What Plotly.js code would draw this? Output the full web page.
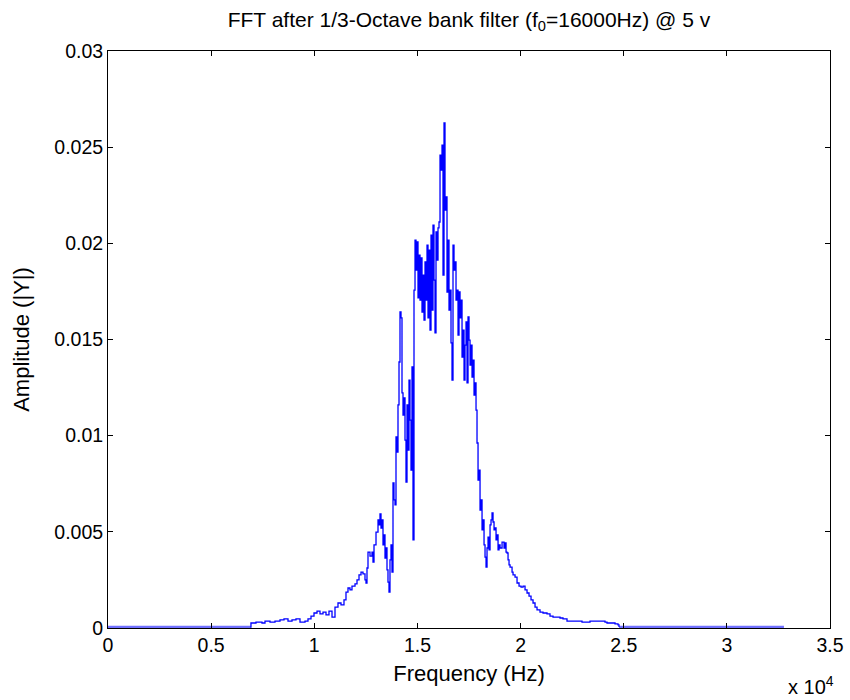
<!DOCTYPE html>
<html>
<head>
<meta charset="utf-8">
<script src="https://cdn.plot.ly/plotly-3.0.1.min.js"></script>
<style>html,body{margin:0;padding:0;background:#fff;}#chart{width:850px;height:700px;}</style>
</head>
<body>
<div id="chart"></div>
<script>
// Frequency (Hz) and amplitude |Y|
var freqHz = [6884,6930,7174,7465,7611,7853,8095,8338,8532,8726,8920,9113,9307,9550,9695,9841,9986,10132,10277,10423,10568,10713,10859,11004,11149,11295,11440,11537,11634,11731,11828,11974,12071,12168,12265,12361,12458,12507,12555,12604,12701,12798,12846,12895,12992,13089,13137,13185,13234,13282,13331,13379,13428,13476,13525,13573,13622,13670,13719,13767,13816,13864,13913,13961,14010,14058,14107,14155,14204,14252,14301,14349,14398,14446,14495,14543,14592,14640,14689,14737,14786,14834,14883,14931,14980,15028,15077,15125,15174,15222,15271,15319,15368,15416,15465,15513,15562,15610,15658,15707,15755,15804,15852,15901,15949,15998,16046,16095,16143,16192,16240,16289,16337,16386,16434,16483,16531,16580,16628,16677,16725,16774,16822,16871,16919,16968,17016,17065,17113,17162,17210,17259,17307,17356,17404,17453,17501,17550,17598,17647,17695,17744,17792,17841,17889,17938,17986,18035,18083,18132,18180,18229,18277,18326,18374,18423,18471,18520,18568,18617,18665,18714,18762,18811,18859,18908,18956,19005,19102,19199,19247,19296,19344,19393,19441,19490,19587,19635,19732,19829,19926,20023,20120,20216,20313,20410,20507,20604,20701,20798,20943,21088,21282,21427,21573,21767,21912,22057,22251,22639,22881,22978,23366,23850,24093,24190,24578,24723,24772];
var amplitude = [0.00005,0.00026,0.00031,0.00026,0.00036,0.00031,0.00036,0.00042,0.00047,0.00036,0.00042,0.00047,0.00031,0.00036,0.00047,0.00062,0.00078,0.00088,0.00073,0.00083,0.00068,0.00088,0.00057,0.00109,0.0013,0.0012,0.00146,0.00187,0.00208,0.00198,0.00218,0.00229,0.0025,0.00276,0.00291,0.00281,0.0025,0.00234,0.00312,0.00395,0.00374,0.00395,0.00343,0.00432,0.00499,0.00562,0.00536,0.00593,0.0052,0.00562,0.00432,0.00484,0.00364,0.00416,0.00302,0.00239,0.00187,0.00354,0.00432,0.00291,0.00754,0.00666,0.0064,0.00993,0.00915,0.0116,0.01383,0.01643,0.01612,0.01222,0.01107,0.01196,0.00977,0.00759,0.0116,0.00925,0.01289,0.01081,0.00821,0.01357,0.00458,0.01757,0.02017,0.01861,0.02007,0.01716,0.01939,0.01705,0.01924,0.01643,0.01835,0.01601,0.01903,0.01705,0.01991,0.01612,0.01965,0.01549,0.02043,0.01653,0.02095,0.01809,0.01534,0.02059,0.01913,0.0208,0.02111,0.02459,0.02381,0.02511,0.01835,0.02626,0.02173,0.02241,0.01747,0.02017,0.01653,0.01757,0.01482,0.01289,0.01991,0.01861,0.01903,0.01705,0.01757,0.01523,0.01747,0.01612,0.01705,0.01409,0.01549,0.01289,0.01471,0.01591,0.01274,0.01617,0.01497,0.01367,0.01471,0.01305,0.01393,0.01211,0.01274,0.01133,0.00962,0.00769,0.00821,0.00613,0.00666,0.0051,0.00562,0.00432,0.00369,0.00317,0.00416,0.00473,0.00406,0.00536,0.00562,0.00598,0.00551,0.0051,0.0052,0.00458,0.00484,0.00406,0.00432,0.00416,0.00447,0.00416,0.00442,0.00395,0.0039,0.00354,0.00328,0.00317,0.00291,0.00276,0.00265,0.00234,0.00218,0.00213,0.00218,0.00198,0.00182,0.00166,0.00146,0.0013,0.00109,0.00094,0.00083,0.00078,0.00073,0.00062,0.00057,0.00057,0.00052,0.00047,0.00036,0.00036,0.00036,0.00031,0.00036,0.00036,0.00031,0.00026,0.00021,0.00016,0.00005];

// near-zero floor outside the filter band
var floorLeftHz = [0, 2000, 4000, 6000, 6884];
var floorLeftAmp = [0.00004, 0.00004, 0.00004, 0.00004, 0.00004];
var floorRightHz = [24772, 27000, 30000, 32768];
var floorRightAmp = [0.00004, 0.00004, 0.00004, 0.00004];

// axis ticks
var xTickVals = [0, 5000, 10000, 15000, 20000, 25000, 30000, 35000];
var xTickText = ['0', '0.5', '1', '1.5', '2', '2.5', '3', '3.5'];
var yTickVals = [0, 0.005, 0.01, 0.015, 0.02, 0.025, 0.03];
var yTickText = ['0', '0.005', '0.01', '0.015', '0.02', '0.025', '0.03'];

var FONT = 'Liberation Sans, Arial, Helvetica, sans-serif';

var traces = [
  {x: floorLeftHz, y: floorLeftAmp, mode: 'lines', line: {color: '#7070ff', width: 3}, hoverinfo: 'skip'},
  {x: floorRightHz, y: floorRightAmp, mode: 'lines', line: {color: '#7070ff', width: 3}, hoverinfo: 'skip'},
  {x: freqHz, y: amplitude, mode: 'lines', line: {color: '#0000ff', width: 1.3, shape: 'hv'}}
];

var axisCommon = {
  showgrid: false, zeroline: false,
  showline: true, linecolor: '#000', linewidth: 1, mirror: 'ticks',
  ticks: 'inside', ticklen: 5, tickwidth: 1, tickcolor: '#000',
  tickfont: {family: FONT, size: 19.5, color: '#000'}
};

var layout = {
  width: 850, height: 700,
  margin: {l: 108, r: 20, t: 51, b: 72},
  paper_bgcolor: '#fff', plot_bgcolor: '#fff',
  showlegend: false,
  title: {
    text: 'FFT after 1/3-Octave bank filter (f<sub>0</sub>=16000Hz) @ 5 v',
    font: {family: FONT, size: 21, color: '#000'},
    x: 0.5, xref: 'paper', y: 0.972, yref: 'container', yanchor: 'middle'
  },
  xaxis: Object.assign({}, axisCommon, {
    range: [0, 35000], tickmode: 'array', tickvals: xTickVals, ticktext: xTickText,
    title: {text: 'Frequency (Hz)', font: {family: FONT, size: 22, color: '#000'}, standoff: 10}
  }),
  yaxis: Object.assign({}, axisCommon, {
    range: [0, 0.03], tickmode: 'array', tickvals: yTickVals, ticktext: yTickText,
    title: {text: 'Amplitude (|Y|)', font: {family: FONT, size: 22, color: '#000'}, standoff: 18}
  }),
  annotations: [{
    text: 'x 10<sup>4</sup>', xref: 'paper', yref: 'paper', x: 1.008, y: -0.1,
    xanchor: 'right', yanchor: 'middle', showarrow: false,
    font: {family: FONT, size: 20, color: '#000'}
  }]
};

Plotly.newPlot('chart', traces, layout, {displayModeBar: false, staticPlot: true});
</script>
</body>
</html>
